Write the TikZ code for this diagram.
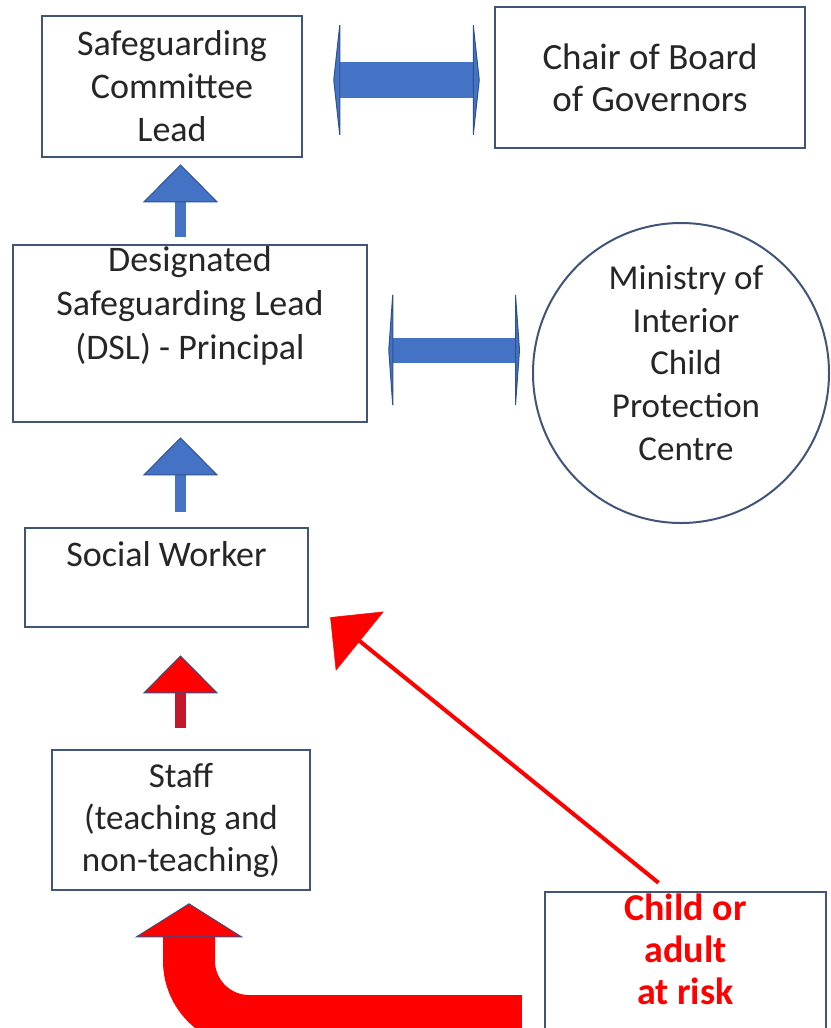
\documentclass[tikz,border=0pt]{standalone}
\usepackage{fontspec}
\setmainfont{Carlito}
\usetikzlibrary{positioning, arrows.meta, shapes.geometric, calc}

\definecolor{boxline}{RGB}{65,85,120}
\definecolor{arrblue}{RGB}{68,114,196}
\definecolor{arrline}{RGB}{47,82,143}
\definecolor{txtgray}{RGB}{38,38,38}
\definecolor{riskred}{RGB}{255,0,0}

\begin{document}
\begin{tikzpicture}[x=1pt,y=-1pt,
            box/.style={rectangle,draw=boxline,line width=2.5pt,text=txtgray,align=center,
                        font=\fontsize{36}{43}\selectfont,inner sep=0pt},
            txt/.style={text=txtgray,align=center,font=\fontsize{36}{44}\selectfont,inner sep=0pt},
            dblarr/.style={draw=arrblue,<->},
            uparr/.style={draw=arrblue,line width=11pt,
                          -{Triangle[width=75pt,length=38pt,line width=1pt,color=arrline,fill=arrblue]}},
            redup/.style={draw=riskred!70!arrline,line width=11pt,
                          -{Triangle[width=75pt,length=38pt,line width=1pt,color=arrline,fill=riskred]}},
            bigarr/.style={draw=riskred,line width=52pt,rounded corners=60pt,
                           -{Triangle[width=108pt,length=34pt,line width=0.8pt,color=arrline,fill=riskred]}},
            diagarr/.style={draw=riskred,line width=4pt,
                            -{Triangle[width=76pt,length=38pt,line width=0.5pt]}}]
            \useasboundingbox (0,0) rectangle (830,1028);
            \fill[white] (0,0) rectangle (830,1028);

            \node[box,minimum width=260pt,minimum height=141pt] (SC) at (172,86.5)    {Safeguarding\\Committee\\Lead};
            \node[box,minimum width=310pt,minimum height=141pt,font=\fontsize{37}{42}\selectfont]
                                                                 (CB) at (650,77.5)    {Chair of Board\\of Governors};
            \node[box,minimum width=354pt,minimum height=177pt] (DSL) at (190,333.5) {};
            \node[ellipse,draw=boxline,line width=2pt,minimum width=296pt,minimum height=300pt]
                                                                 (MI) at (681,373)     {};
            \node[box,minimum width=283pt,minimum height=99pt]  (SW) at (166.5,577.5) {};
            \node[box,minimum width=258pt,minimum height=140pt,font=\fontsize{35}{42}\selectfont]
                                                                 (ST) at (181,820)     {Staff\\(teaching and\\non-teaching)};
            \node[box,minimum width=281pt,minimum height=158pt] (CR) at (685.5,971)   {};

            \node[txt] (DSLt) [below=3pt of DSL.north] {Designated\\Safeguarding Lead\\(DSL) - Principal};
            \node[txt] (MIt) at ($(MI.center)+(5,-10)$) [font=\fontsize{35}{42.75}\selectfont]
                                                          {Ministry of\\Interior\\Child\\Protection\\Centre};
            \node[txt] (SWt) [below=15pt of SW.north] {Social Worker};
            \node[txt,text=riskred,font=\bfseries\fontsize{38}{42}\selectfont]
                       (CRt) [below=3pt of CR.north] {Child or\\adult\\at risk};

            \coordinate (ax) at (180.5,0);
            \coordinate (ya) at (0,80);
            \coordinate (yb) at (0,350);
            \coordinate (bend) at (189,1021);

            \draw[dblarr,line width=36pt,shorten <=30pt,shorten >=14pt,
                  >={Triangle[width=128pt,length=7pt,line width=1pt,color=arrline,fill=arrblue]}]
                  (SC.east |- ya) -- (CB.west |- ya);
            \draw[dblarr,line width=25pt,shorten <=20pt,shorten >=12pt,
                  >={Triangle[width=138pt,length=5pt,line width=1pt,color=arrline,fill=arrblue]}]
                  (DSL.east |- yb) -- (MI.west |- yb);

            \draw[uparr,shorten <=7pt,shorten >=6pt]   (DSL.north -| ax) -- (SC.south -| ax);
            \draw[uparr,shorten <=15pt,shorten >=14pt] (SW.north -| ax)  -- (DSL.south -| ax);
            \draw[redup,shorten <=21pt,shorten >=27pt] (ST.north -| ax)  -- (SW.south -| ax);

            \draw[bigarr,shorten <=22pt,shorten >=12pt] (CR.west |- bend) -- (bend) -- (ST.south -| bend);
            \draw[diagarr] ($(CR.north)+(-27,-8)$) -- ($(SW.south east)+(21,-11)$);

        \end{tikzpicture}
\end{document}
